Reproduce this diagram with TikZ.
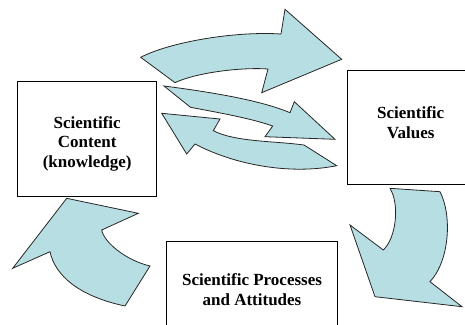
\documentclass[tikz,border=0pt]{standalone}
\usepackage{fontspec}
\setmainfont{Liberation Serif}
\newfontfamily\boxfont{Liberation Serif Bold}
\begin{document}
\begin{tikzpicture}[x=1pt,y=-1pt,
  flow/.style={fill=arrowfill,draw=black!85,line width=0.8pt,line join=miter},
  boxstyle/.style={draw=black,line width=1pt,fill=white},
  boxtext/.style={font=\boxfont\fontsize{17}{19.5}\selectfont,align=center,inner sep=0pt}]
\definecolor{arrowfill}{RGB}{183,222,226}
\useasboundingbox (0,0) rectangle (465,324);
\clip (0,0) rectangle (465,324);

% boxes
\draw[boxstyle] (17.7,81) rectangle (156.7,196.7);
\node[boxtext] (content) at (87.2,143.7) {Scientific\\Content\\(knowledge)};

\draw[boxstyle] (347,70) rectangle (480,184.5);
\node[boxtext] (values) at (410.7,122.7) {Scientific\\Values};

\draw[boxstyle] (166,241) rectangle (337.7,330);
\node[boxtext] (process) at (252,289.5) {Scientific Processes\\and Attitudes};

% upper wide arrow: content -> values
\filldraw[flow] (175,82.7) -- (140.7,57.3)
  .. controls (170,42) and (235,31) .. (281,34)
  -- (285,9.3) -- (341.7,59.3) -- (261.7,92.7) -- (268,69)
  .. controls (240,67) and (195,73) .. (175,82.7) -- cycle;

% middle arrow: content -> values
\filldraw[flow] (164,86) -- (190.5,107.3)
  .. controls (215,112) and (250,118) .. (272.7,126)
  -- (265,136.7) -- (335,139.3) -- (294.3,101.7) -- (290,112.7)
  .. controls (260,100) and (210,92) .. (164,86) -- cycle;

% middle arrow: values -> content
\filldraw[flow] (161.7,113.3) -- (220,119) -- (213.3,130.7)
  .. controls (235,142) and (275,141) .. (304,145)
  -- (336.7,165.7)
  .. controls (290,175) and (235,165) .. (195,144)
  -- (186.7,154) -- cycle;

% lower right arrow: values -> processes
\filldraw[flow] (390,188.3) -- (440,191.7)
  .. controls (452,215) and (450,260) .. (430,281.7)
  -- (462,306.7) -- (375,296.7) -- (350,225) -- (383.3,250)
  .. controls (396,238) and (400,205) .. (390,188.3) -- cycle;

% lower left arrow: processes -> content
\filldraw[flow] (66.7,198.3) -- (138.3,213.3) -- (101.7,230)
  .. controls (104,242) and (125,260) .. (150,266)
  -- (125,306)
  .. controls (78,296) and (55,275) .. (50,251.7)
  -- (12.7,268.3) -- cycle;
\end{tikzpicture}
\end{document}
